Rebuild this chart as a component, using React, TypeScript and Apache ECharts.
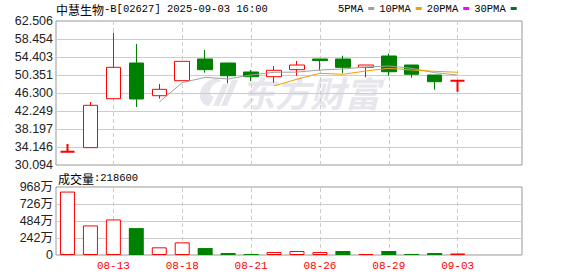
import React, { useEffect, useRef } from 'react';
import * as echarts from 'echarts';

// ---------- data ----------
const titleName = '中慧生物';
const titleRest = '-B[02627] 2025-09-03 16:00';
const volumeLabelName = '成交量';
const volumeLabelValue = ':218600';
const watermarkText = '东方财富';

const dates = [
  '08-11', '08-12', '08-13', '08-14', '08-15', '08-18', '08-19', '08-20', '08-21',
  '08-22', '08-25', '08-26', '08-27', '08-28', '08-29', '09-01', '09-02', '09-03',
];
const blankSlots = ['', ''];
const labelDates = ['08-13', '08-18', '08-21', '08-26', '08-29', '09-03'];

const openPrices = [33.09, 34.0, 45.02, 53.05, 45.69, 49.07, 53.95, 53.05, 51.03, 49.97, 51.55, 53.95, 53.95, 52.08, 54.63, 52.6, 50.35, 49.07];
const closePrices = [33.09, 43.53, 52.08, 44.95, 47.13, 53.43, 51.55, 50.19, 49.97, 51.41, 52.6, 53.6, 52.08, 52.6, 51.09, 50.51, 48.84, 49.07];
const lowPrices = [33.09, 34.0, 45.02, 43.15, 45.02, 49.07, 50.87, 48.48, 49.0, 48.62, 50.19, 51.32, 50.73, 49.83, 50.19, 49.74, 47.04, 46.59];
const highPrices = [34.82, 44.27, 59.87, 57.33, 48.33, 53.43, 55.98, 53.05, 51.48, 52.38, 53.5, 53.95, 54.7, 52.6, 55.15, 52.6, 50.35, 49.07];

const ma5 = [null, null, null, null, 44.27, 48.62, 49.83, 49.45, 50.35, 50.96, 51.0, 51.48, 51.7, 52.15, 52.38, 51.85, 50.87, 50.35];
const ma10 = [null, null, null, null, null, null, null, null, null, 47.88, 49.4, 50.73, 50.51, 51.25, 51.85, 51.48, 51.18, 50.96];
const ma20: (number | null)[] = [];
const ma30: (number | null)[] = [];

// volume in 万 shares
const volumes = [903, 421, 506, 383, 109, 180, 99, 28, 15, 42, 57, 42, 57, 14, 57, 14, 28, 21.86];
const volumeUp = [true, true, true, false, true, true, false, false, false, true, true, true, false, true, false, false, false, true];

const priceTickLabels = ['30.094', '34.146', '38.197', '42.249', '46.300', '50.351', '54.403', '58.454', '62.506'];
const priceMin = 30.094;
const priceMax = 62.506;
const volumeTickLabels = ['0', '242万', '484万', '726万', '968万'];
const volumeMax = 968;

const legendNames = ['5PMA', '10PMA', '20PMA', '30PMA'];

// ---------- styles ----------
const RED = '#ff0000';
const GREEN = '#008000';
const GRID_LINE = '#cccccc';
const FRAME = '#999999';
const MA_COLORS = ['#a0a0a0', '#f0a000', '#ff00ff', '#007030'];

const logoD =
  'M18 1 C8 3 1 11 2 20 C3 26 7 29 11 29 L16 20 C12 19 11 15 13 11 C15 7 19 5 24 4 Z ' +
  'M25 7 L31 7 L21 29 L15 29 Z M34 3 L40 3 L29 29 L23 29 Z';
echarts.graphic.registerShape('emlogo', echarts.graphic.extendPath(logoD as any, {}) as any);

function buildOption(): any {
  const cats = [...dates, ...blankSlots];
  const priceStep = (priceMax - priceMin) / (priceTickLabels.length - 1);
  const volStep = volumeMax / (volumeTickLabels.length - 1);
  const candleData = dates.map((_, i) => {
    const value = [openPrices[i], closePrices[i], lowPrices[i], highPrices[i]];
    if (openPrices[i] === closePrices[i]) {
      return { value, itemStyle: { borderWidth: 2 } };
    }
    return value;
  });
  const volData = volumes.map((v, i) => ({
    value: v,
    itemStyle: volumeUp[i]
      ? { color: '#ffffff', borderColor: RED, borderWidth: 1 }
      : { color: GREEN, borderColor: GREEN, borderWidth: 0 },
  }));
  const vLines = {
    silent: true,
    z: 1,
    symbol: ['none', 'none'],
    label: { show: false },
    lineStyle: { color: GRID_LINE, type: [4, 3], width: 1 },
    emphasis: { disabled: true },
    data: labelDates.map((d) => ({ xAxis: d })),
  };
  const labelFont = { fontFamily: 'Liberation Sans', fontSize: 12.5, color: '#222' };

  return {
    animation: false,
    backgroundColor: '#ffffff',
    legend: {
      data: legendNames,
      left: 338,
      top: 3,
      align: 'right',
      icon: 'rect',
      itemWidth: 6,
      itemHeight: 3,
      itemGap: 5,
      padding: 0,
      selectedMode: false,
      textStyle: { fontFamily: 'Liberation Mono', fontSize: 10.5, color: '#000' },
    },
    grid: [
      { left: 56, top: 21, width: 466, height: 144, show: true, borderColor: FRAME, borderWidth: 1, backgroundColor: 'transparent' },
      { left: 56, top: 21, width: 459, height: 144, show: false },
      { left: 56, top: 187, width: 466, height: 68, show: true, borderColor: FRAME, borderWidth: 1, backgroundColor: 'transparent' },
      { left: 56, top: 187, width: 459, height: 68, show: false },
    ],
    xAxis: [
      { gridIndex: 0, type: 'value', min: 0, max: 1, show: false },
      { gridIndex: 1, type: 'category', data: cats, boundaryGap: true, show: false },
      { gridIndex: 2, type: 'value', min: 0, max: 1, show: false },
      {
        gridIndex: 3,
        type: 'category',
        data: cats,
        boundaryGap: true,
        axisLine: { show: false },
        axisTick: { show: false },
        splitLine: { show: false },
        axisLabel: {
          interval: (idx: number, val: string) => labelDates.indexOf(val) >= 0,
          color: RED,
          fontFamily: 'Liberation Mono',
          fontSize: 11,
          margin: 5,
        },
      },
    ],
    yAxis: [
      {
        gridIndex: 0,
        type: 'value',
        min: priceMin,
        max: priceMax,
        interval: priceStep,
        axisLine: { show: false },
        axisTick: { show: false },
        splitLine: { show: true, showMinLine: false, showMaxLine: false, lineStyle: { color: GRID_LINE, width: 1 } },
        axisLabel: {
          ...labelFont,
          margin: 3,
          formatter: (v: number) => priceTickLabels[Math.round((v - priceMin) / priceStep)] ?? '',
        },
      },
      { gridIndex: 1, type: 'value', min: priceMin, max: priceMax, show: false },
      {
        gridIndex: 2,
        type: 'value',
        min: 0,
        max: volumeMax,
        interval: volStep,
        axisLine: { show: false },
        axisTick: { show: false },
        splitLine: { show: true, showMinLine: false, showMaxLine: false, lineStyle: { color: GRID_LINE, width: 1 } },
        axisLabel: {
          ...labelFont,
          margin: 3,
          fontFamily: 'Liberation Sans, Noto Sans CJK SC',
          formatter: (v: number) => volumeTickLabels[Math.round(v / volStep)] ?? '',
        },
      },
      { gridIndex: 3, type: 'value', min: 0, max: volumeMax, show: false },
    ],
    graphic: [
      {
        type: 'emlogo',
        x: 198,
        y: 77,
        z: 0,
        silent: true,
        style: { fill: '#e6e6ec' },
      },
      {
        type: 'text',
        x: 240,
        y: 74,
        z: 0,
        silent: true,
        style: {
          text: watermarkText,
          fontSize: 35,
          fontWeight: 'bold',
          fontStyle: 'italic',
          fontFamily: 'Noto Sans CJK SC',
          fill: '#e6e6ec',
        },
      },
      {
        type: 'text',
        x: 56,
        y: 9,
        style: {
          text: `{a|${titleName}}{b|${titleRest}}`,
          verticalAlign: 'middle',
          rich: {
            a: { fontFamily: 'Noto Sans CJK SC', fontSize: 12, fill: '#000' },
            b: { fontFamily: 'Liberation Mono', fontSize: 10.5, fill: '#000' },
          },
        },
      },
      {
        type: 'text',
        x: 58,
        y: 178,
        style: {
          text: `{a|${volumeLabelName}}{b|${volumeLabelValue}}`,
          verticalAlign: 'middle',
          rich: {
            a: { fontFamily: 'Noto Sans CJK SC', fontSize: 12, fill: '#000' },
            b: { fontFamily: 'Liberation Mono', fontSize: 10.5, fill: '#000' },
          },
        },
      },
    ],
    series: [
      {
        name: 'K',
        type: 'candlestick',
        xAxisIndex: 1,
        yAxisIndex: 1,
        barWidth: 15,
        data: candleData,
        itemStyle: {
          color: '#ffffff',
          color0: GREEN,
          borderColor: RED,
          borderColor0: GREEN,
          borderWidth: 1,
        },
        markLine: vLines,
      },
      { name: legendNames[0], type: 'line', xAxisIndex: 1, yAxisIndex: 1, data: ma5, showSymbol: false, color: MA_COLORS[0], lineStyle: { width: 1, color: MA_COLORS[0] } },
      { name: legendNames[1], type: 'line', xAxisIndex: 1, yAxisIndex: 1, data: ma10, showSymbol: false, color: MA_COLORS[1], lineStyle: { width: 1, color: MA_COLORS[1] } },
      { name: legendNames[2], type: 'line', xAxisIndex: 1, yAxisIndex: 1, data: ma20, showSymbol: false, color: MA_COLORS[2], lineStyle: { width: 1, color: MA_COLORS[2] } },
      { name: legendNames[3], type: 'line', xAxisIndex: 1, yAxisIndex: 1, data: ma30, showSymbol: false, color: MA_COLORS[3], lineStyle: { width: 1, color: MA_COLORS[3] } },
      {
        name: 'VOL',
        type: 'bar',
        xAxisIndex: 3,
        yAxisIndex: 3,
        barWidth: 15,
        data: volData,
        markLine: vLines,
      },
    ],
  };
}

export default function App() {
  const ref = useRef<HTMLDivElement>(null);
  useEffect(() => {
    document.body.style.margin = '0';
    const chart = echarts.init(ref.current!, null, { renderer: 'svg' });
    chart.setOption(buildOption());
    return () => chart.dispose();
  }, []);
  return <div ref={ref} style={{ position: 'fixed', left: 0, top: 0, width: 578, height: 276 }} />;
}
